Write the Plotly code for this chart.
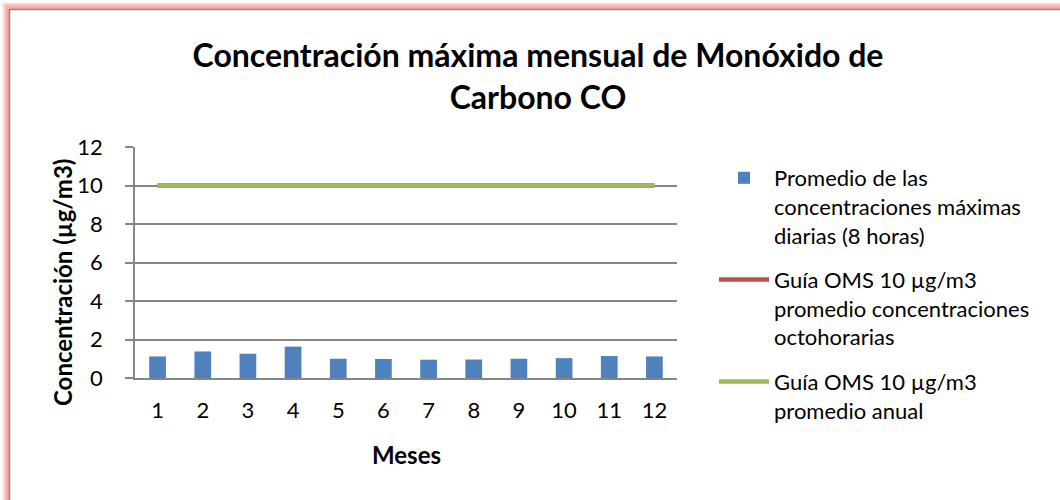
import plotly.graph_objects as go

meses = [1, 2, 3, 4, 5, 6, 7, 8, 9, 10, 11, 12]
promedio_max = [1.12, 1.38, 1.26, 1.63, 1.0, 0.99, 0.95, 0.96, 1.0, 1.03, 1.14, 1.12]
guia_octohoraria = [10] * 12
guia_anual = [10] * 12

title_text = "Concentración máxima mensual de Monóxido de<br>Carbono CO"
name_bar = "Promedio de las<br>concentraciones máximas<br>diarias (8 horas)"
name_red = "Guía OMS 10 µg/m3<br>promedio concentraciones<br>octohorarias"
name_green = "Guía OMS 10 µg/m3<br>promedio anual"
y_ticks = [0, 2, 4, 6, 8, 10, 12]

W, H = 1060, 500
L, R, T, B = 135, 383, 147, 122
pw, ph = W - L - R, H - T - B


def px(x):
    return (x - L) / pw


def py(y):
    return (H - B - y) / ph


FONT = "Lato"

fig = go.Figure()
fig.add_trace(go.Bar(
    x=meses, y=promedio_max, name=name_bar, marker_color="#4f81bd",
    marker_line_width=0, width=0.37, legendgroup="a",
))
fig.add_trace(go.Scatter(
    x=meses, y=guia_octohoraria, name=name_red, mode="lines",
    line=dict(color="#c0504d", width=4.5), legendgroup="b",
))
fig.add_trace(go.Scatter(
    x=meses, y=guia_anual, name=name_green, mode="lines",
    line=dict(color="#9bbb59", width=4.5), legendgroup="c",
))

shapes = []
# pink glow border
for i, a in enumerate([0.15, 0.3, 0.45, 0.6, 0.7, 0.78, 0.8]):
    off = 2 + i
    shapes.append(dict(type="rect", xref="paper", yref="paper",
                       x0=px(off + 0.5), x1=px(W + 20), y0=py(H + 20), y1=py(off + 0.5),
                       line=dict(color=f"rgba(245,140,140,{a})", width=1), layer="below"))
shapes.append(dict(type="rect", xref="paper", yref="paper",
                   x0=px(9.5), x1=px(W + 20), y0=py(H + 20), y1=py(9.5),
                   line=dict(color="#8c8c8c", width=1.5), layer="below"))

annotations = [
    dict(text="<b>Meses</b>", xref="paper", yref="paper", x=px(406), y=py(454),
         showarrow=False, font=dict(family=FONT, size=24, color="black"),
         xanchor="center", yanchor="middle"),
    dict(text="<b>Concentración (µg/m3)</b>", xref="paper", yref="paper", x=px(62), y=py(283),
         showarrow=False, textangle=-90, font=dict(family=FONT, size=24, color="black"),
         xanchor="center", yanchor="middle"),
]

fig.update_layout(
    width=W, height=H,
    margin=dict(l=L, r=R, t=T, b=B, pad=0, autoexpand=False),
    paper_bgcolor="white", plot_bgcolor="white",
    font=dict(family=FONT, color="black"),
    title=dict(text="<b>" + title_text + "</b>", x=538 / W, xanchor="center",
               y=1 - 67 / H, yanchor="middle",
               font=dict(family=FONT, size=32, color="black")),
    xaxis=dict(range=[0.5, 12.5], tickvals=meses, ticktext=[str(m) for m in meses],
               showgrid=False, showline=True, linecolor="#868686", linewidth=1.5,
               ticks="", tickfont=dict(family=FONT, size=22, color="black"),
               ticklabelstandoff=12, zeroline=False, fixedrange=True),
    yaxis=dict(range=[0, 12], tickvals=y_ticks, showgrid=True, gridcolor="#868686",
               gridwidth=1.5, showline=True, linecolor="#868686", linewidth=1.5,
               ticks="outside", ticklen=8, tickcolor="#868686", tickwidth=1.5,
               ticklabelstandoff=18,
               tickfont=dict(family=FONT, size=22, color="black"), zeroline=False),
    showlegend=True,
    legend=dict(x=714 / W, y=1 - 157 / H, xref="container", yref="container",
                xanchor="left", yanchor="top", valign="top",
                font=dict(family=FONT, size=22, color="black"),
                tracegroupgap=13, bgcolor="rgba(0,0,0,0)", itemwidth=50,
                maxheight=1),
    bargap=0.6,
    shapes=shapes,
    annotations=annotations,
)

fig.write_html("out.html", config={"displayModeBar": False},
               post_script="document.body.style.margin='0';")
